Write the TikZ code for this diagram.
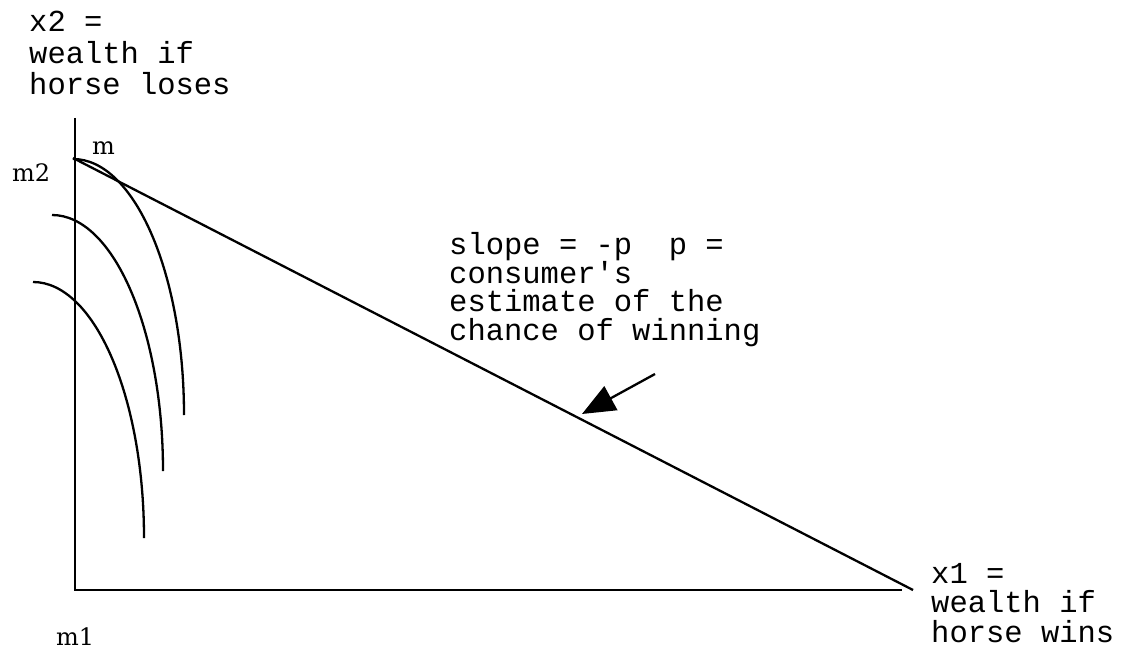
\documentclass[tikz,border=0pt]{standalone}
\usepackage{fontspec}
\setmonofont{Liberation Mono}
\newfontfamily\lblserif{DejaVu Serif}
\usetikzlibrary{arrows.meta}
\tikzset{
  ln/.style={line width=2.3pt, line cap=butt},
  monolbl/.style={inner sep=0pt, anchor=base west, font=\ttfamily\fontsize{30.5}{30}\selectfont},
  seriflbl/.style={inner sep=0pt, anchor=base west, font=\lblserif\fontsize{24}{26}\selectfont},
  pointer/.style={ln, -{Triangle[length=33pt,width=27pt]}}
}
\newcommand{\stackthree}[4]{\vtop{\baselineskip=#1\hbox{#2}\hbox{#3}\hbox{#4}}}
\newcommand{\stackfour}[5]{\vtop{\baselineskip=#1\hbox{#2}\hbox{#3}\hbox{#4}\hbox{#5}}}
\begin{document}
\begin{tikzpicture}[x=1pt,y=-1pt]
\useasboundingbox (0,0) rectangle (1140,652);
% axes
\coordinate (O) at (75,590);
\coordinate (ytop) at (75,118);
\coordinate (xend) at (902,590);
\draw[ln] (ytop) -- (O) -- (xend);
% budget line
\coordinate (A) at (73,158);
\coordinate (B) at (913,590);
\draw[ln] (A) -- (B);
% indifference curves
\coordinate (c1) at (73,159);
\coordinate (c2) at (52,215);
\coordinate (c3) at (33,282);
\draw[ln] (c1) arc[start angle=-90,end angle=0,x radius=111,y radius=256];
\draw[ln] (c2) arc[start angle=-90,end angle=0,x radius=111,y radius=256];
\draw[ln] (c3) arc[start angle=-90,end angle=0,x radius=111,y radius=256];
% labels
\node[monolbl] (ylab) at (29,32) {\stackthree{31.5pt}{x2 =}{wealth if}{horse loses}};
\node[monolbl] (xlab) at (931,583) {\stackthree{29.5pt}{x1 =}{wealth if}{horse wins}};
\node[monolbl] (slope) at (449,255) {\stackfour{28.5pt}{slope = -p\ \ p =}{consumer's}{estimate of the}{chance of winning}};
\node[seriflbl] (mlab) at (92,155) {m};
\node[seriflbl] (m2lab) at (12,182) {m2};
\node[seriflbl] (m1lab) at (56,645) {m1};
% pointer arrow
\coordinate (ptail) at (655,374);
\coordinate (phead) at (582,414);
\draw[pointer] (ptail) -- (phead);
\end{tikzpicture}
\end{document}
